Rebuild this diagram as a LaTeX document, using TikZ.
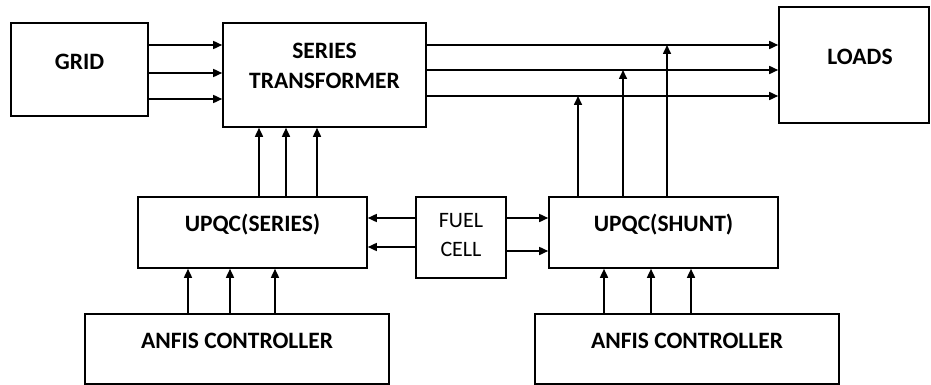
\documentclass[tikz,border=0pt]{standalone}
\usepackage{fontspec}
\setmainfont{Carlito}
\usetikzlibrary{arrows.meta,positioning}

\begin{document}
\begin{tikzpicture}[x=1pt, y=-1pt,
    box/.style={rectangle, draw, line width=1.6pt, inner sep=0pt},
    txt/.style={font=\fontsize{23.5}{28}\selectfont\bfseries, align=center},
    arrow/.style={-{Triangle[length=9pt, width=8pt]}, line width=1.6pt}
]
\useasboundingbox (0,0) rectangle (931,385);

% Power path
\node[box, minimum width=137pt, minimum height=93pt, label={[txt, yshift=7.5pt]center:GRID}] (grid) at (79.5,69.5) {};
\node[box, minimum width=203pt, minimum height=104pt, label={[txt, yshift=9.5pt]center:SERIES\\[2pt]TRANSFORMER}] (trans) at (324.5,75) {};
\node[box, minimum width=150pt, minimum height=116pt, label={[txt, yshift=8pt, xshift=6pt]center:LOADS}] (loads) at (854,65) {};

% Compensators and source
\node[box, minimum width=229pt, minimum height=71pt, label={[txt, yshift=7.5pt]center:UPQC(SERIES)}] (sers) at (252.5,232.5) {};
\node[box, minimum width=90pt, minimum height=81pt, label={[align=center, font=\fontsize{22}{26}\selectfont, yshift=2pt]center:FUEL\\[3pt]CELL}] (fuel) at (461,237.5) {};
\node[box, minimum width=229pt, minimum height=71pt, label={[txt, yshift=7.5pt]center:UPQC(SHUNT)}] (shunt) at (663.5,232.5) {};

% Controllers
\node[box, minimum width=304pt, minimum height=70pt, label={[txt, yshift=8pt]center:ANFIS CONTROLLER}] (anfisl) at (237,349) {};
\node[box, minimum width=304pt, minimum height=70pt, label={[txt, yshift=8pt]center:ANFIS CONTROLLER}] (anfisr) at (687,349) {};

% Grid to transformer
\draw[arrow] ([yshift=24.5pt]grid.east) -- ([yshift=24.5pt]grid.east -| trans.west);
\draw[arrow] ([yshift=-3.5pt]grid.east) -- ([yshift=-3.5pt]grid.east -| trans.west);
\draw[arrow] ([yshift=-29.5pt]grid.east) -- ([yshift=-29.5pt]grid.east -| trans.west);

% Transformer to loads
\draw[arrow] ([yshift=30pt]trans.east) coordinate (l1) -- (l1 -| loads.west);
\draw[arrow] ([yshift=5pt]trans.east) coordinate (l2) -- (l2 -| loads.west);
\draw[arrow] ([yshift=-21pt]trans.east) coordinate (l3) -- (l3 -| loads.west);

% Series injection
\draw[arrow] ([xshift=6.5pt]sers.north) -- ([xshift=6.5pt]sers.north |- trans.south);
\draw[arrow] ([xshift=33.5pt]sers.north) -- ([xshift=33.5pt]sers.north |- trans.south);
\draw[arrow] ([xshift=64.5pt]sers.north) -- ([xshift=64.5pt]sers.north |- trans.south);

% Shunt injection
\draw[arrow] ([xshift=-85.5pt]shunt.north) -- ([xshift=-85.5pt]shunt.north |- l3);
\draw[arrow] ([xshift=-40.5pt]shunt.north) -- ([xshift=-40.5pt]shunt.north |- l2);
\draw[arrow] ([xshift=3.5pt]shunt.north) -- ([xshift=3.5pt]shunt.north |- l1);

% Fuel cell supply
\draw[arrow] ([yshift=19.5pt]fuel.west) -- ([yshift=19.5pt]fuel.west -| sers.east);
\draw[arrow] ([yshift=-9.5pt]fuel.west) -- ([yshift=-9.5pt]fuel.west -| sers.east);
\draw[arrow] ([yshift=19.5pt]fuel.east) -- ([yshift=19.5pt]fuel.east -| shunt.west);
\draw[arrow] ([yshift=-13.5pt]fuel.east) -- ([yshift=-13.5pt]fuel.east -| shunt.west);

% Controller signals
\draw[arrow] ([xshift=-49pt]anfisl.north) -- ([xshift=-49pt]anfisl.north |- sers.south);
\draw[arrow] ([xshift=-7pt]anfisl.north) -- ([xshift=-7pt]anfisl.north |- sers.south);
\draw[arrow] ([xshift=38pt]anfisl.north) -- ([xshift=38pt]anfisl.north |- sers.south);
\draw[arrow] ([xshift=-83pt]anfisr.north) -- ([xshift=-83pt]anfisr.north |- shunt.south);
\draw[arrow] ([xshift=-36pt]anfisr.north) -- ([xshift=-36pt]anfisr.north |- shunt.south);
\draw[arrow] ([xshift=4pt]anfisr.north) -- ([xshift=4pt]anfisr.north |- shunt.south);

\end{tikzpicture}
\end{document}
